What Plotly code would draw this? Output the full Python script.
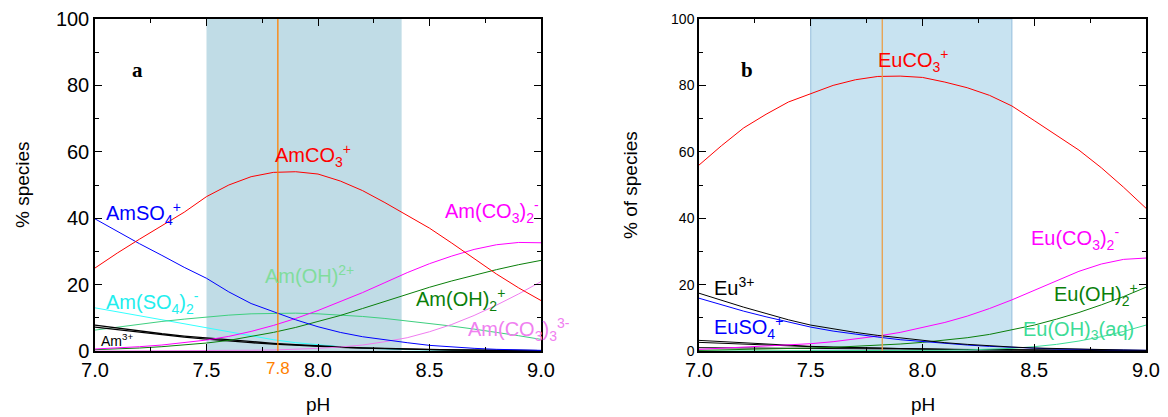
import plotly.graph_objects as go

# ---------------- data ----------------
ph = [7.0, 7.1, 7.2, 7.3, 7.4, 7.5, 7.6, 7.7, 7.8, 7.9, 8.0,
      8.1, 8.2, 8.3, 8.4, 8.5, 8.6, 8.7, 8.8, 8.9, 9.0]

# panel a (Am)
am_co3 = [25.0, 29.5, 33.7, 37.8, 41.8, 46.5, 50.0, 52.5, 53.8, 54.0, 53.3,
          51.2, 48.3, 44.7, 40.8, 37.0, 32.5, 27.8, 23.2, 19.0, 15.2]
am_so4 = [39.8, 36.0, 32.3, 28.8, 25.2, 21.9, 17.8, 14.3, 11.8, 9.4, 7.3,
          5.6, 4.3, 3.3, 2.5, 1.7, 1.2, 0.8, 0.5, 0.3, 0.2]
am_so4_2 = [13.0, 11.8, 10.5, 9.3, 8.1, 7.0, 5.8, 4.5, 3.4, 2.5, 1.8,
            1.3, 0.9, 0.6, 0.4, 0.3, 0.2, 0.15, 0.1, 0.07, 0.05]
am_oh = [6.3, 7.2, 8.1, 8.9, 9.6, 10.3, 10.8, 11.2, 11.4, 11.4, 11.2,
         10.9, 10.4, 9.8, 9.1, 8.3, 7.5, 6.6, 5.7, 4.6, 3.5]
am3_a = [7.8, 6.9, 6.0, 5.2, 4.5, 3.9, 3.3, 2.8, 2.3, 1.9, 1.5,
         1.2, 0.95, 0.75, 0.6, 0.45, 0.35, 0.27, 0.2, 0.15, 0.1]
am3_b = [7.2, 6.4, 5.6, 4.8, 4.2, 3.6, 3.0, 2.5, 2.1, 1.7, 1.4,
         1.1, 0.85, 0.65, 0.5, 0.4, 0.3, 0.22, 0.17, 0.12, 0.08]
am_co3_2 = [0.6, 0.9, 1.3, 1.8, 2.5, 3.3, 4.4, 5.9, 7.7, 9.8, 12.2,
            14.8, 17.6, 20.6, 23.6, 26.3, 28.6, 30.6, 32.0, 32.7, 32.6]
am_oh_2 = [0.4, 0.6, 0.9, 1.3, 1.8, 2.4, 3.2, 4.3, 5.6, 7.1, 8.8,
           10.7, 12.8, 15.0, 17.2, 19.2, 21.1, 22.9, 24.5, 26.0, 27.3]
am_co3_3 = [0.0, 0.0, 0.02, 0.04, 0.07, 0.1, 0.15, 0.22, 0.3, 0.5, 0.8,
            1.2, 1.8, 2.8, 4.0, 5.8, 8.0, 10.7, 13.8, 17.2, 20.9]

# panel b (Eu)
eu_co3 = [56.0, 61.8, 67.2, 71.3, 75.0, 77.6, 80.0, 81.7, 82.7, 82.8, 82.4,
          81.0, 79.3, 77.0, 73.8, 69.4, 65.0, 60.5, 55.2, 49.3, 43.0]
eu3 = [17.4, 15.2, 13.2, 11.3, 9.4, 7.8, 6.6, 5.6, 4.7, 3.9, 3.2,
       2.5, 2.0, 1.5, 1.2, 0.9, 0.7, 0.5, 0.4, 0.3, 0.2]
eu_so4 = [15.9, 13.9, 12.0, 10.3, 8.7, 7.2, 6.0, 5.0, 4.2, 3.4, 2.8,
          2.2, 1.8, 1.4, 1.1, 0.8, 0.6, 0.5, 0.4, 0.3, 0.2]
eu_minor1 = [3.2, 2.8, 2.4, 2.0, 1.7, 1.4, 1.2, 1.0, 0.85, 0.7, 0.6,
             0.5, 0.4, 0.35, 0.3, 0.25, 0.2, 0.17, 0.15, 0.12, 0.1]
eu_minor2 = [2.6, 2.3, 2.0, 1.7, 1.5, 1.3, 1.1, 0.95, 0.8, 0.65, 0.55,
             0.45, 0.38, 0.32, 0.27, 0.22, 0.18, 0.15, 0.12, 0.1, 0.08]
eu_minor3 = [1.0, 0.95, 0.9, 0.85, 0.8, 0.75, 0.7, 0.65, 0.6, 0.55, 0.5,
             0.45, 0.4, 0.35, 0.3, 0.27, 0.24, 0.2, 0.18, 0.15, 0.12]
eu_co3_2 = [0.5, 0.8, 1.1, 1.4, 1.8, 2.2, 2.8, 3.6, 4.5, 5.6, 7.0,
            8.6, 10.5, 12.8, 15.4, 18.2, 21.2, 24.0, 26.2, 27.6, 28.0]
eu_oh_2 = [0.2, 0.3, 0.4, 0.5, 0.7, 0.9, 1.1, 1.4, 1.7, 2.1, 2.6,
           3.2, 4.0, 5.0, 6.3, 7.8, 9.6, 11.6, 13.9, 16.4, 19.2]
eu_oh_3 = [0.0, 0.0, 0.01, 0.01, 0.02, 0.03, 0.04, 0.06, 0.08, 0.11, 0.15,
           0.22, 0.32, 0.5, 0.8, 1.3, 2.0, 3.0, 4.3, 5.9, 7.8]

x_ticks = [7.0, 7.5, 8.0, 8.5, 9.0]
x_tick_text = ["7.0", "7.5", "8.0", "8.5", "9.0"]
y_ticks = [0, 20, 40, 60, 80, 100]
shade_a = [7.5, 8.375]
shade_b = [7.5, 8.4]
ph_mark = 7.82

# ---------------- figure ----------------
FONT = "Liberation Sans, Arial, sans-serif"
W, H = 1168, 417
OFF = 8  # page body offset
ML, MR, MT, MB = 22, 18, 19 - OFF, 417 - (351 - OFF)
PW = W - ML - MR

def xp(px):
    return (px - OFF - ML) / PW

fig = go.Figure()

series_a = [
    (am_so4_2, "#33ffff", 1.0),
    (am_oh, "#3ecf7f", 1.0),
    (am3_a, "#000000", 1.3),
    (am3_b, "#000000", 1.3),
    (am_co3_3, "#f07cf0", 1.0),
    (am_oh_2, "#0a7f0a", 1.0),
    (am_co3_2, "#ff00ff", 1.0),
    (am_so4, "#0000ff", 1.0),
    (am_co3, "#ff0000", 1.0),
]
for ys, col, w in series_a:
    fig.add_trace(go.Scatter(x=ph, y=ys, mode="lines", line=dict(color=col, width=w),
                             xaxis="x", yaxis="y", showlegend=False, hoverinfo="skip"))

series_b = [
    (eu_minor1, "#000000", 1.0),
    (eu_minor2, "#000000", 1.0),
    (eu_minor3, "#000000", 1.0),
    (eu_oh_3, "#3ddc97", 1.0),
    (eu_oh_2, "#0a7f0a", 1.0),
    (eu_co3_2, "#ff00ff", 1.0),
    (eu_so4, "#0000ff", 1.0),
    (eu3, "#000000", 1.0),
    (eu_co3, "#ff0000", 1.0),
]
for ys, col, w in series_b:
    fig.add_trace(go.Scatter(x=ph, y=ys, mode="lines", line=dict(color=col, width=w),
                             xaxis="x2", yaxis="y2", showlegend=False, hoverinfo="skip"))

fig.add_shape(type="rect", xref="x", yref="y", x0=shade_a[0], x1=shade_a[1], y0=0, y1=100,
              fillcolor="#c0dce6", line=dict(width=0), layer="below")
fig.add_shape(type="rect", xref="x2", yref="y2", x0=shade_b[0], x1=shade_b[1], y0=0, y1=100,
              fillcolor="#c8e3f1", line=dict(width=1, color="#94bedc"), layer="below")
fig.add_shape(type="line", xref="x", yref="y", x0=ph_mark, x1=ph_mark, y0=0, y1=100,
              line=dict(color="#ff8000", width=1.3))
fig.add_shape(type="line", xref="x2", yref="y2", x0=ph_mark, x1=ph_mark, y0=0, y1=100,
              line=dict(color="#eaa04a", width=1.3))

dom_a = [xp(95), xp(541)]
dom_b = [xp(699), xp(1146)]

def xaxis(domain, anchor):
    return dict(domain=domain, anchor=anchor, range=[7.0, 9.0], tickvals=x_ticks,
                ticktext=x_tick_text, ticks="inside", ticklen=7, tickwidth=1.3,
                tickcolor="#000", showline=True, linecolor="#000", linewidth=1.5,
                mirror="ticks", showgrid=False, zeroline=False, automargin=False,
                tickfont=dict(family=FONT, size=20, color="#000"),
                minor=dict(tickvals=[7.25, 7.75, 8.25, 8.75], ticks="inside", ticklen=4,
                           tickcolor="#000", tickwidth=1.2))

def yaxis(anchor, size):
    return dict(domain=[0, 1], anchor=anchor, range=[0, 100], tickvals=y_ticks,
                ticks="inside", ticklen=7, tickwidth=1.3, tickcolor="#000",
                showline=True, linecolor="#000", linewidth=1.5, mirror="ticks",
                showgrid=False, zeroline=False, automargin=False,
                tickfont=dict(family=FONT, size=size, color="#000"),
                minor=dict(tickvals=[10, 30, 50, 70, 90], ticks="inside", ticklen=4,
                           tickcolor="#000", tickwidth=1.2))

fig.update_layout(
    width=W, height=H,
    margin=dict(l=ML, r=MR, t=MT, b=MB, autoexpand=False),
    paper_bgcolor="white", plot_bgcolor="white",
    xaxis=xaxis(dom_a, "y"), yaxis=yaxis("x", 20),
    xaxis2=xaxis(dom_b, "y2"), yaxis2=yaxis("x2", 14),
    showlegend=False,
)

ann = []
def lab(text, x, y, color, xref="x", yref="y", size=20, family=FONT, xanchor="left"):
    ann.append(dict(text=text, x=x, y=y, xref=xref, yref=yref, showarrow=False,
                    xanchor=xanchor, yanchor="middle",
                    font=dict(family=family, size=size, color=color)))

lab("<b>a</b>", 7.155, 84.5, "#000", family="Liberation Serif, Times New Roman, serif", size=21)
lab("AmCO<sub>3</sub><sup>+</sup>", 7.80, 59, "#ff0000")
lab("AmSO<sub>4</sub><sup>+</sup>", 7.04, 41.5, "#0000ff")
lab("Am(SO<sub>4</sub>)<sub>2</sub><sup>-</sup>", 7.04, 14.5, "#22eeee")
lab("Am<sup>3+</sup>", 7.02, 3.2, "#000", size=14)
lab("Am(OH)<sup>2+</sup>", 7.755, 23, "#80dd9c")
lab("Am(CO<sub>3</sub>)<sub>2</sub><sup>-</sup>", 8.56, 42, "#ff00ff")
lab("Am(OH)<sub>2</sub><sup>+</sup>", 8.43, 15.5, "#0a7f0a")
lab("Am(CO<sub>3</sub>)<sub>3</sub><sup>3-</sup>", 8.665, 6.5, "#f080f0")

lab("<b>b</b>", 7.18, 84.5, "#000", xref="x2", yref="y2",
    family="Liberation Serif, Times New Roman, serif", size=21)
lab("EuCO<sub>3</sub><sup>+</sup>", 7.79, 87.5, "#ff0000", xref="x2", yref="y2")
lab("Eu<sup>3+</sup>", 7.06, 19.3, "#000", xref="x2", yref="y2")
lab("EuSO<sub>4</sub><sup>+</sup>", 7.06, 7.2, "#0000ff", xref="x2", yref="y2")
lab("Eu(CO<sub>3</sub>)<sub>2</sub><sup>-</sup>", 8.475, 34, "#ff00ff", xref="x2", yref="y2")
lab("Eu(OH)<sub>2</sub><sup>+</sup>", 8.58, 17, "#0a7f0a", xref="x2", yref="y2")
lab("Eu(OH)<sub>3</sub>(aq)", 8.44, 6.2, "#3ddc97", xref="x2", yref="y2")

ann.append(dict(text="7.8", x=ph_mark, y=-0.053, xref="x", yref="paper", showarrow=False,
                xanchor="center", yanchor="middle",
                font=dict(family=FONT, size=17, color="#ff8000")))

ann.append(dict(text="% species", x=xp(22), y=0.5, xref="paper", yref="paper", textangle=-90,
                showarrow=False, xanchor="center", yanchor="middle",
                font=dict(family=FONT, size=19, color="#000")))
ann.append(dict(text="% of species", x=xp(630), y=0.5, xref="paper", yref="paper", textangle=-90,
                showarrow=False, xanchor="center", yanchor="middle",
                font=dict(family=FONT, size=19, color="#000")))
for c in [(dom_a[0] + dom_a[1]) / 2, (dom_b[0] + dom_b[1]) / 2]:
    ann.append(dict(text="pH", x=c, y=-0.16, xref="paper", yref="paper", showarrow=False,
                    xanchor="center", yanchor="middle",
                    font=dict(family=FONT, size=19, color="#000")))

fig.update_layout(annotations=ann)
fig.write_html("out.html")
